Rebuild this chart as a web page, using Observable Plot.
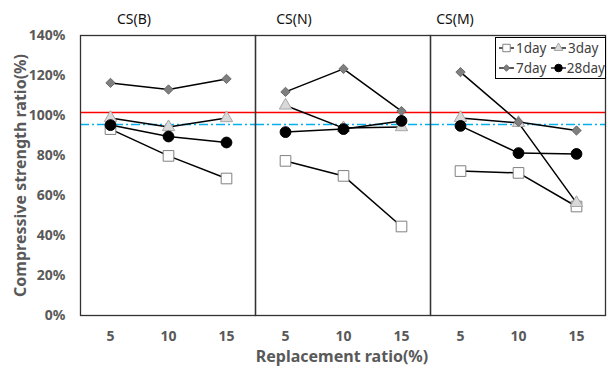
<!DOCTYPE html>
<html><head><meta charset="utf-8">
<script src="https://cdn.jsdelivr.net/npm/d3@7"></script>
<script src="https://cdn.jsdelivr.net/npm/@observablehq/plot@0.6"></script>
<style>
body{margin:0;background:#fff;font-family:"Noto Sans",sans-serif;}
#wrap{position:relative;width:608px;height:369px;overflow:hidden;}
#wrap > svg{position:absolute;left:0;top:0;}
#xlabel{position:absolute;left:79px;width:526px;top:346px;text-align:center;font-weight:bold;font-size:16px;color:#595959;line-height:20px;}
#legend{position:absolute;left:495px;top:37px;width:107px;height:40px;border:1.5px solid #000;background:#fff;display:grid;grid-template-columns:52px 55px;grid-template-rows:20px 20px;padding-left:2px;box-sizing:content-box;overflow:hidden;}
#legend .it{display:flex;align-items:center;font-size:13.5px;color:#404040;white-space:nowrap;}
#legend svg{margin-right:1px;}
g[aria-label="y-axis label"] text{font-size:16px;}
</style></head>
<body><div id="wrap"></div>
<script>
const panels = ["CS(B)", "CS(N)", "CS(M)"];
const ratios = [5, 10, 15];
const seriesNames = ["1day", "3day", "7day", "28day"];
// values per panel (B, N, M) at ratios 5, 10, 15
const day1  = [[93.2, 79.8, 68.5], [77.3, 69.8, 44.5], [72.2, 71.3, 54.5]];
const day3  = [[98.8, 94.2, 98.7], [105.0, 93.7, 94.2], [98.8, 96.3, 56.3]];
const day7  = [[116.3, 113.0, 118.3], [111.8, 123.3, 102.2], [121.7, 96.8, 92.5]];
const day28 = [[95.2, 89.5, 86.5], [91.7, 93.2, 97.3], [94.8, 81.2, 80.8]];
const yTicks = [0, 20, 40, 60, 80, 100, 120, 140];
const redLine = 101.5;
const blueLine = 95.5;

const rows = [];
[day1, day3, day7, day28].forEach((arr, s) => arr.forEach((vals, p) => vals.forEach((v, i) =>
  rows.push({series: seriesNames[s], panel: panels[p], ratio: ratios[i], value: v}))));

const styles = {
  "1day":  {symbol: "square",   fill: "#ffffff", stroke: "#808080", r: 6},
  "3day":  {symbol: "triangle", fill: "#d9d9d9", stroke: "#a6a6a6", r: 4.6},
  "7day":  {symbol: "diamond2", fill: "#7f7f7f", stroke: "#6a6a6a", r: 4.2},
  "28day": {symbol: "circle",   fill: "#000000", stroke: "#000000", r: 5.4}
};

const dotMarks = seriesNames.map(s => Plot.dot(rows.filter(d => d.series === s), {
  fx: "panel", x: "ratio", y: "value",
  symbol: () => styles[s].symbol, r: styles[s].r,
  fill: styles[s].fill, stroke: styles[s].stroke, strokeWidth: 1
}));

// panel titles: one top fx-axis per panel, each with its own horizontal offset
const titleShift = [-34, -49, -63];
const titleAxes = panels.map((p, i) => Plot.axisFx({ticks: [p], anchor: "top", tickSize: 0, tickPadding: 12,
  fontSize: 14, fill: "#111", label: null, dx: titleShift[i]}));

const chart = Plot.plot({
  width: 608, height: 346,
  marginTop: 35, marginBottom: 31, marginLeft: 79, marginRight: 3,
  style: {fontFamily: "'Noto Sans', sans-serif", color: "#595959", background: "transparent"},
  fx: {domain: panels, padding: 0},
  x: {type: "point", domain: ratios, padding: 0.5},
  y: {domain: [0, 140]},
  symbol: {type: "identity"},
  marks: [
    Plot.axisY({ticks: yTicks, tickFormat: d => d + "%", tickSize: 0, tickPadding: 15,
      fontWeight: "bold", fontSize: 14, fill: "#595959",
      label: "Compressive strength ratio(%)", labelAnchor: "center", labelOffset: 66, labelArrow: "none"}),
    Plot.axisX({tickSize: 0, tickPadding: 16, fontWeight: "bold", fontSize: 14, fill: "#595959", label: null}),
    ...titleAxes,
    Plot.ruleY([redLine], {stroke: "#ff0000", strokeWidth: 1.5}),
    Plot.ruleY([blueLine], {stroke: "#00b0f0", strokeWidth: 1.5, strokeDasharray: "9,3,2,3"}),
    Plot.line(rows, {fx: "panel", x: "ratio", y: "value", z: "series", stroke: "#000", strokeWidth: 1.5}),
    ...dotMarks,
    Plot.frame({stroke: "#333", strokeWidth: 1.3})
  ]
});

const wrap = document.getElementById("wrap");
wrap.appendChild(chart);
const xl = document.createElement("div");
xl.id = "xlabel"; xl.textContent = "Replacement ratio(%)";
wrap.appendChild(xl);

// legend
const leg = document.createElement("div");
leg.id = "legend";
const symMap = {square: d3.symbolSquare, triangle: d3.symbolTriangle, diamond2: d3.symbolDiamond2, circle: d3.symbolCircle};
seriesNames.forEach(s => {
  const st = styles[s];
  const it = document.createElement("div");
  it.className = "it";
  const svg = d3.create("svg").attr("width", 17).attr("height", 12);
  svg.append("line").attr("x1", 1).attr("x2", 16).attr("y1", 6).attr("y2", 6).attr("stroke", "#000").attr("stroke-width", 1.3);
  svg.append("path").attr("transform", "translate(8.5,6)")
    .attr("d", d3.symbol(symMap[st.symbol], Math.PI * (st.r * 0.7) ** 2)())
    .attr("fill", st.fill).attr("stroke", st.stroke);
  it.appendChild(svg.node());
  it.appendChild(document.createTextNode(s));
  leg.appendChild(it);
});
wrap.appendChild(leg);
</script>
</body></html>
